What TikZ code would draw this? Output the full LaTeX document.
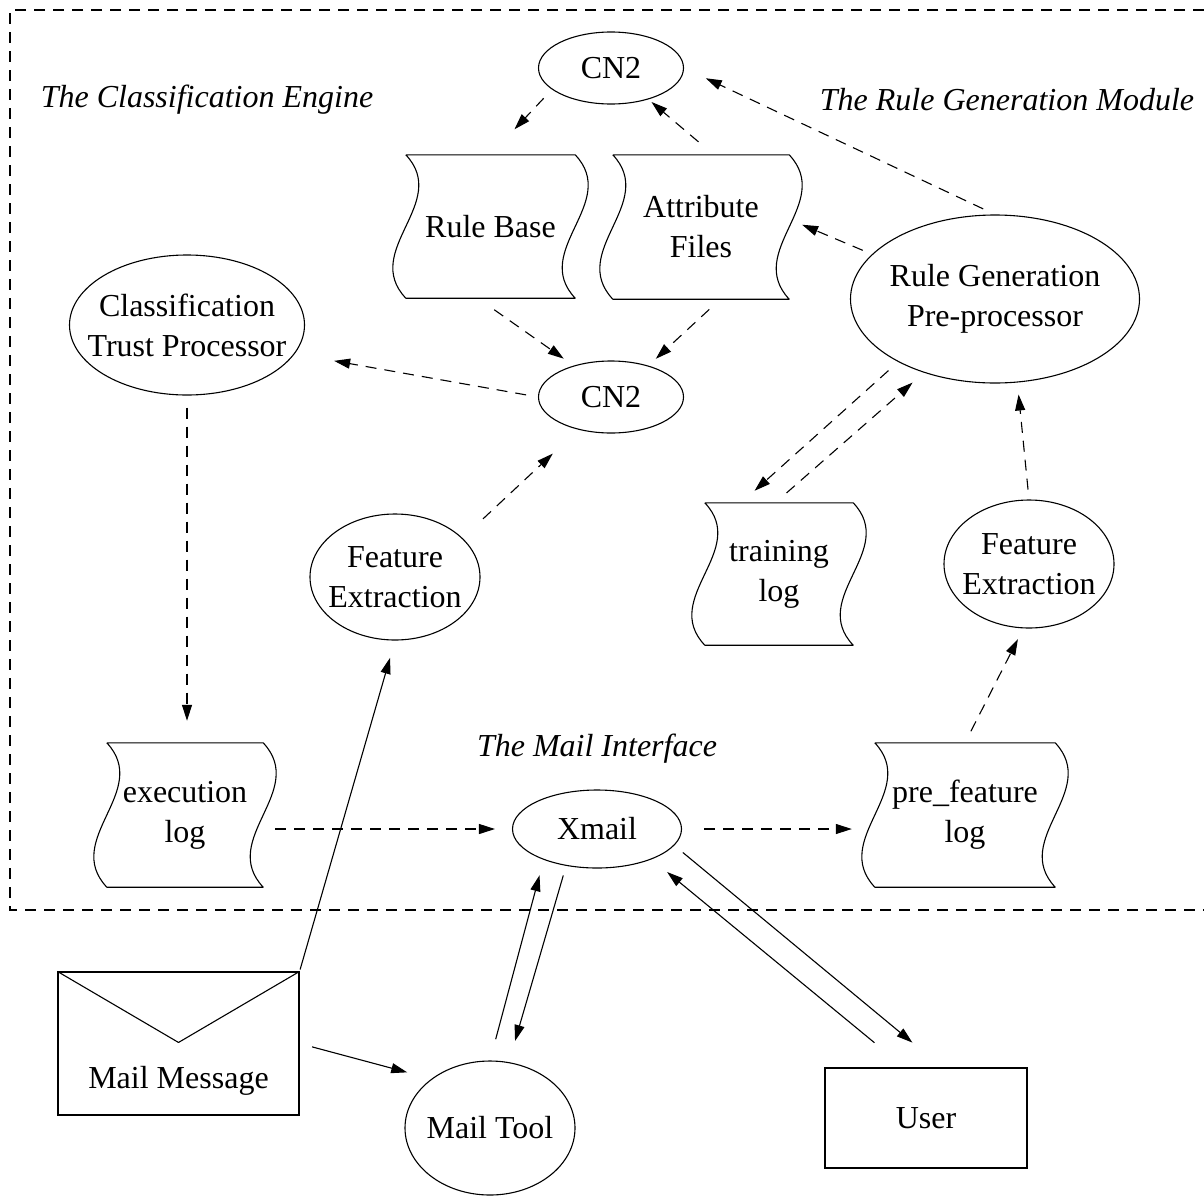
\documentclass[tikz,border=0pt]{standalone}
\usepackage{fontspec}
\setmainfont{Liberation Serif}
\usetikzlibrary{shapes.geometric,arrows.meta,calc}

% wavy "document" outline drawn round a rectangular node
\newcommand\docoutline[1]{%
  \draw[docline] (#1.north west) -- (#1.north east)
    .. controls ($(#1.north east)!0.333!(#1.south east)+(45,0)$)
            and ($(#1.north east)!0.667!(#1.south east)+(-45,0)$) .. (#1.south east)
    -- (#1.south west)
    .. controls ($(#1.north west)!0.667!(#1.south west)+(-45,0)$)
            and ($(#1.north west)!0.333!(#1.south west)+(45,0)$) .. (#1.north west);}

\begin{document}
\begin{tikzpicture}[x=1pt,y=-1pt,
  every node/.style={font=\fontsize{32}{40}\selectfont, align=center, inner sep=0pt},
  ovalnode/.style={draw, ellipse, line width=1.1pt, inner xsep=-80pt, inner ysep=-40pt},
  docnode/.style={rectangle, draw=none},
  boxnode/.style={draw, rectangle, line width=1.1pt},
  regionlabel/.style={font=\fontsize{32}{40}\selectfont\itshape},
  arrowtip/.style={-{Triangle[length=16pt,width=10pt]}},
  dashflow/.style={arrowtip, line width=1.1pt, dash pattern=on 11pt off 8pt},
  solidflow/.style={arrowtip, line width=1.1pt},
  framedash/.style={line width=1.1pt, dash pattern=on 11pt off 8pt},
  docline/.style={line width=1.1pt, line join=round}]

\useasboundingbox (0,0) rectangle (1204,1197);

% outer boundary of the system
\draw[framedash] (1204,10) -- (10,10) -- (10,910) -- (1204,910);

% region titles
\node[regionlabel] (ceLabel) at (207,100) {The Classification Engine};
\node[regionlabel] (rgLabel) at (1007,100) {The Rule Generation Module};
\node[regionlabel] (miLabel) at (597,749) {The Mail Interface};

% processes and data stores
\node[ovalnode, minimum width=145pt, minimum height=72pt] (cn2a) at (611,68) {CN2};
\node[docnode, minimum width=169pt, minimum height=143pt] (rulebase) at (490.5,226.5) {Rule Base};
\node[docnode, minimum width=176pt, minimum height=144pt] (attr) at (701,227) {Attribute\\Files};
\node[ovalnode, minimum width=235pt, minimum height=140pt] (ctp) at (187,325) {Classification\\Trust Processor};
\node[ovalnode, minimum width=289pt, minimum height=168pt] (rgp) at (995,299) {Rule Generation\\Pre-processor};
\node[ovalnode, minimum width=145pt, minimum height=72pt] (cn2b) at (611,397) {CN2};
\node[ovalnode, minimum width=170pt, minimum height=126pt] (fe1) at (395,577) {Feature\\Extraction};
\node[docnode, minimum width=148pt, minimum height=142pt] (train) at (779,574) {training\\log};
\node[ovalnode, minimum width=170pt, minimum height=128pt] (fe2) at (1029,564) {Feature\\Extraction};
\node[docnode, minimum width=156pt, minimum height=144pt] (exec) at (185,815) {execution\\log};
\node[ovalnode, minimum width=169pt, minimum height=78pt] (xmail) at (597,829) {Xmail};
\node[docnode, minimum width=180pt, minimum height=144pt] (pref) at (965,815) {pre\_feature\\log};

\docoutline{rulebase}
\docoutline{attr}
\docoutline{train}
\docoutline{exec}
\docoutline{pref}

% envelope
\node[boxnode, minimum width=241pt, minimum height=143pt] (mailmsg) at (178.5,1043.5) {};
\draw[docline] (mailmsg.north west) -- ($(mailmsg.north)+(0,71)$) -- (mailmsg.north east);
\node (mailmsgText) at ($(mailmsg.south)+(0,-35)$) {Mail Message};

\node[ovalnode, minimum width=170pt, minimum height=134pt] (mailtool) at (490,1128) {Mail Tool};
\node[boxnode, minimum width=202pt, minimum height=100pt] (user) at (926,1118) {User};

% data flows inside the system
\draw[dashflow, shorten <=12pt, shorten >=35pt] (cn2a.200) -- (rulebase.north);
\draw[dashflow, shorten <=20pt, shorten >=4pt] (attr.80) -- (cn2a.320);
\draw[dashflow, shorten <=13pt, shorten >=24pt] (rgp.north) -- (cn2a.east);
\draw[dashflow, shorten <=10pt, shorten >=14pt] (rgp.160) -- (attr.5);
\draw[dashflow, shorten <=20pt, shorten >=12pt] (rulebase.260) -- (cn2b.140);
\draw[dashflow, shorten <=15pt, shorten >=10pt] (attr.285) -- (cn2b.40);
\draw[dashflow, shorten <=12pt, shorten >=40pt] (cn2b.west) -- (ctp.345);
\draw[dashflow, shorten <=12pt, shorten >=22pt] (ctp.south) -- (ctp.south |- exec.north);
\draw[dashflow, shorten <=28pt, shorten >=35pt] (fe1.30) -- (cn2b.225);
\draw[dashflow, shorten <=13pt, shorten >=18pt] (rgp.213) -- (train.118);
\draw[dashflow, shorten <=15pt, shorten >=15pt] (train.93) -- (rgp.226);
\draw[dashflow, shorten <=10pt, shorten >=12pt] (fe2.north) -- (rgp.285);
\draw[dashflow, shorten <=13pt, shorten >=12pt] (pref.north) -- (fe2.265);
\draw[dashflow, shorten <=12pt, shorten >=17pt] (exec.east |- xmail.west) -- (xmail.west);
\draw[dashflow, shorten <=22pt, shorten >=23pt] (xmail.east) -- (xmail.east -| pref.west);

% flows with the outside world
\draw[solidflow, shorten <=2pt, shorten >=18pt] (mailmsg.north east) -- (fe1.south);
\draw[solidflow, shorten <=13pt, shorten >=25pt] (mailmsg.east) -- (mailtool.140);
\draw[solidflow, shorten <=22pt, shorten >=16pt] (mailtool.north) -- (xmail.210);
\draw[solidflow, shorten <=10pt, shorten >=22pt] (xmail.230) -- (mailtool.74);
\draw[solidflow, shorten <=11pt, shorten >=39pt] (xmail.348) -- (user.72);
\draw[solidflow, shorten <=39pt, shorten >=20pt] (user.113) -- (xmail.331);
\end{tikzpicture}
\end{document}
